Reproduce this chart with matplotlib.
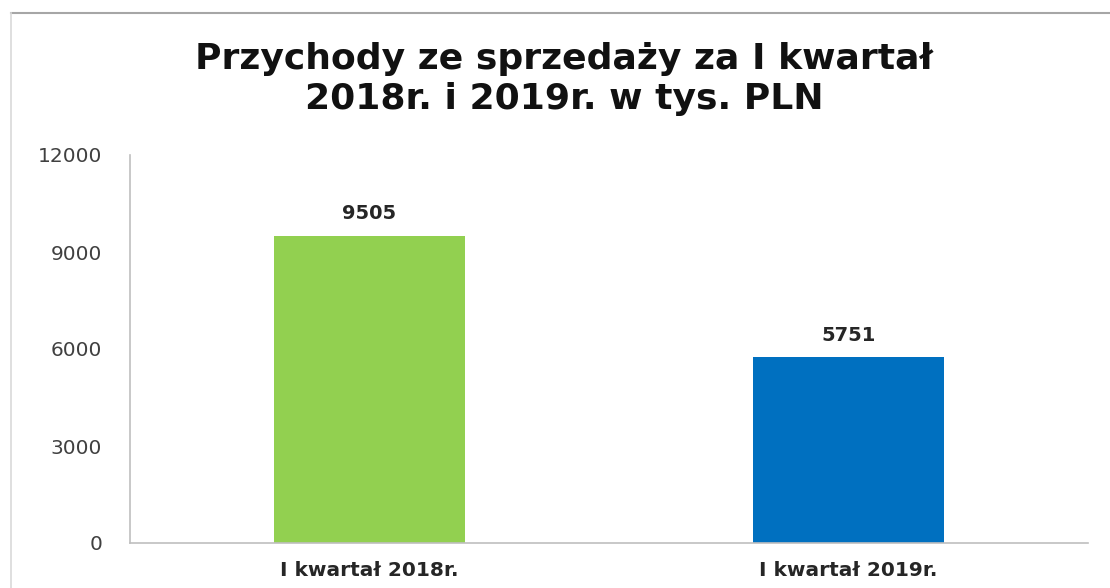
import matplotlib
matplotlib.use("Agg")
import matplotlib.pyplot as plt
from matplotlib.lines import Line2D

categories = ["I kwartał 2018r.", "I kwartał 2019r."]
values = [9505, 5751]
colors = ["#92D050", "#0070C0"]
yticks = [0, 3000, 6000, 9000, 12000]
title = "Przychody ze sprzedaży za I kwartał\n2018r. i 2019r. w tys. PLN"

plt.rcParams['font.family'] = ['DejaVu Sans']

W, H = 1110, 588
fig = plt.figure(figsize=(W / 100, H / 100), dpi=100)
ax = fig.add_axes([130 / W, 1 - 543 / H, (1088 - 130) / W, (543 - 155) / H])

x = list(range(len(categories)))
bars = ax.bar(x, values, width=0.4, color=colors)
for xi, v in zip(x, values):
    ax.text(xi, v + 380, str(v), ha='center', va='bottom', fontsize=14,
            fontweight='bold', color='#262626')

ax.set_xlim(-0.5, 1.5)
ax.set_ylim(0, 12000)
ax.set_yticks(yticks)
ax.set_yticklabels([str(t) for t in yticks], fontsize=14.5, color='#404040')
ax.set_xticks(x)
ax.set_xticklabels(categories, fontsize=14.5, fontweight='bold', color='#262626')
ax.tick_params(axis='both', length=0)
ax.tick_params(axis='y', pad=20)
ax.tick_params(axis='x', pad=13)
for s in ['top', 'right']:
    ax.spines[s].set_visible(False)
for s in ['left', 'bottom']:
    ax.spines[s].set_color('#BFBFBF')
    ax.spines[s].set_linewidth(1.2)

fig.text(564 / W, 1 - 79 / H, title, ha='center', va='center', fontsize=26,
         fontweight='bold', color='#111111', linespacing=1.2)

fig.add_artist(Line2D([11 / W, 1], [1 - 13 / H, 1 - 13 / H], color='#A6A6A6', lw=1.5,
                      transform=fig.transFigure))
fig.add_artist(Line2D([11 / W, 11 / W], [0, 1 - 13 / H], color='#D9D9D9', lw=1.2,
                      transform=fig.transFigure))

fig.savefig("out.png", dpi=100)
